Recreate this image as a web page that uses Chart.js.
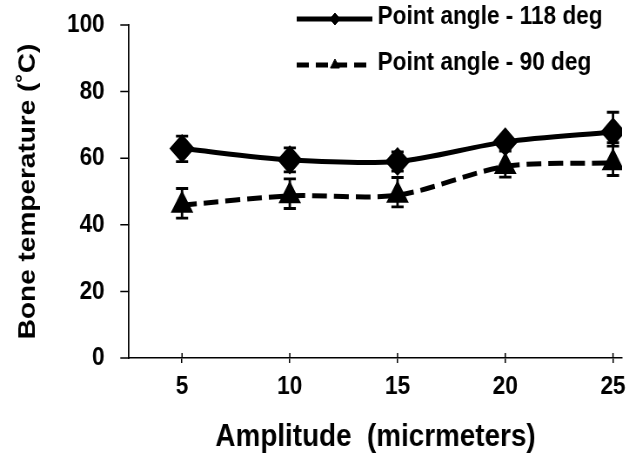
<!DOCTYPE html>
<html>
<head>
<meta charset="utf-8">
<script src="https://cdn.jsdelivr.net/npm/chart.js@4"></script>
<style>
  html, body { margin: 0; padding: 0; background: #fff; overflow: hidden; }
  #outer { width: 642px; height: 456px; overflow: hidden; }
  /* the source figure is squeezed sideways, so draw wider and condense */
  #wrap { width: 738px; height: 456px; transform: scaleX(0.87); transform-origin: 0 0; }
</style>
</head>
<body>
<div id="outer"><div id="wrap"><canvas id="chart"></canvas></div></div>
<script>
// values
const amplitudes = [5, 10, 15, 20, 25];
const temp118 = [62.9, 59.5, 59.0, 64.9, 67.9];
const err118Up = [3.7, 3.6, 2.9, 1.5, 5.9];
const err118Down = [3.9, 3.6, 2.9, 2.8, 3.2];
const temp90 = [45.9, 48.7, 48.9, 57.5, 58.6];
const err90Up = [5.0, 5.1, 5.3, 5.5, 5.0];
const err90Down = [3.9, 3.8, 3.5, 3.2, 3.8];
const yTicks = [0, 20, 40, 60, 80, 100];
const legendLabels = ['Point angle - 118 deg', 'Point angle - 90 deg'];

const FONT = '"Liberation Sans", Arial, sans-serif';

// vertical error bars with caps
const errorBars = {
  id: 'errorBars',
  afterDatasetsDraw(chart) {
    const { ctx, scales: { x, y } } = chart;
    ctx.save();
    ctx.strokeStyle = '#000';
    ctx.lineWidth = 2.8;
    chart.data.datasets.forEach(ds => {
      ds.data.forEach((pt, i) => {
        const px = x.getPixelForValue(pt.x);
        const top = y.getPixelForValue(pt.y + ds.errUp[i]);
        const bot = y.getPixelForValue(pt.y - ds.errDown[i]);
        ctx.beginPath();
        ctx.moveTo(px, top); ctx.lineTo(px, bot);
        ctx.moveTo(px - 7, top); ctx.lineTo(px + 7, top);
        ctx.moveTo(px - 7, bot); ctx.lineTo(px + 7, bot);
        ctx.stroke();
      });
    });
    ctx.restore();
  }
};

// short y tick marks, x axis running a little past the y axis, x ticks crossing the line
const axisExtras = {
  id: 'axisExtras',
  afterDraw(chart) {
    const { ctx, chartArea, scales: { x, y } } = chart;
    ctx.save();
    ctx.strokeStyle = '#000';
    ctx.lineWidth = 1.5;
    ctx.beginPath();
    y.ticks.forEach(t => {
      const py = y.getPixelForValue(t.value);
      ctx.moveTo(chartArea.left - 10, py);
      ctx.lineTo(chartArea.left, py);
    });
    x.ticks.forEach(t => {
      const px = x.getPixelForValue(t.value);
      ctx.moveTo(px, chartArea.bottom - 5);
      ctx.lineTo(px, chartArea.bottom);
    });
    ctx.stroke();
    ctx.restore();
  }
};

// legend drawn inside the top right, no box
const sideLegend = {
  id: 'sideLegend',
  afterDraw(chart) {
    const ctx = chart.ctx;
    const rows = [19, 65];
    ctx.save();
    chart.data.datasets.forEach((ds, i) => {
      const yRow = rows[i];
      ctx.strokeStyle = '#000';
      ctx.fillStyle = '#000';
      ctx.lineWidth = 5;
      ctx.setLineDash(ds.borderDash ? [14, 8] : []);
      ctx.beginPath();
      ctx.moveTo(341, yRow);
      ctx.lineTo(428, yRow);
      ctx.stroke();
      ctx.setLineDash([]);
      ctx.lineWidth = 1;
      Chart.helpers.drawPoint(ctx, { pointStyle: ds.pointStyle, radius: 6, rotation: 0, borderWidth: 1 }, 385, yRow);
      ctx.font = 'bold 26px ' + FONT;
      ctx.textBaseline = 'middle';
      ctx.fillText(ds.label, 434, yRow - 2);
    });
    ctx.restore();
  }
};

new Chart(document.getElementById('chart'), {
  type: 'line',
  data: {
    datasets: [
      {
        label: legendLabels[0],
        data: amplitudes.map((a, i) => ({ x: a, y: temp118[i] })),
        errUp: err118Up,
        errDown: err118Down,
        borderColor: '#000',
        backgroundColor: '#000',
        borderWidth: 5,
        pointStyle: 'rectRot',
        pointRadius: 11,
        tension: 0.3
      },
      {
        label: legendLabels[1],
        data: amplitudes.map((a, i) => ({ x: a, y: temp90[i] })),
        errUp: err90Up,
        errDown: err90Down,
        borderColor: '#000',
        backgroundColor: '#000',
        borderWidth: 5,
        borderDash: [17, 8],
        pointStyle: 'triangle',
        pointRadius: 10,
        tension: 0.3
      }
    ]
  },
  options: {
    responsive: true,
    maintainAspectRatio: false,
    animation: false,
    events: [],
    layout: { padding: { top: 25, right: 23, left: 0, bottom: 0 } },
    plugins: { legend: { display: false }, tooltip: { enabled: false } },
    scales: {
      x: {
        type: 'linear',
        min: 2.54,
        max: 25.42,
        afterBuildTicks: ax => { ax.ticks = amplitudes.map(v => ({ value: v })); },
        afterFit: s => { s.height = 98; },
        ticks: { color: '#000', font: { family: FONT, size: 26, weight: 'bold' }, padding: 8 },
        grid: { drawOnChartArea: false, color: '#000', lineWidth: 1.5, tickLength: 5 },
        border: { color: '#000', width: 1.5 },
        title: {
          display: true,
          text: 'Amplitude  (micrmeters)',
          color: '#000',
          font: { family: FONT, size: 32, weight: 'bold' },
          padding: { top: 0, bottom: 0 }
        }
      },
      y: {
        min: 0,
        max: 100,
        afterBuildTicks: ax => { ax.ticks = yTicks.map(v => ({ value: v })); },
        afterFit: s => { s.width = 148.3; },
        ticks: { color: '#000', font: { family: FONT, size: 26, weight: 'bold' }, padding: 0 },
        grid: { drawOnChartArea: false, tickColor: 'transparent', tickLength: 28 },
        border: { color: '#000', width: 1.7 },
        title: {
          display: true,
          text: 'Bone temperature (˚C)',
          color: '#000',
          font: { family: FONT, size: 28, weight: 'bold' },
          padding: { top: 15, bottom: 0 }
        }
      }
    }
  },
  plugins: [errorBars, axisExtras, sideLegend]
});
</script>
</body>
</html>
